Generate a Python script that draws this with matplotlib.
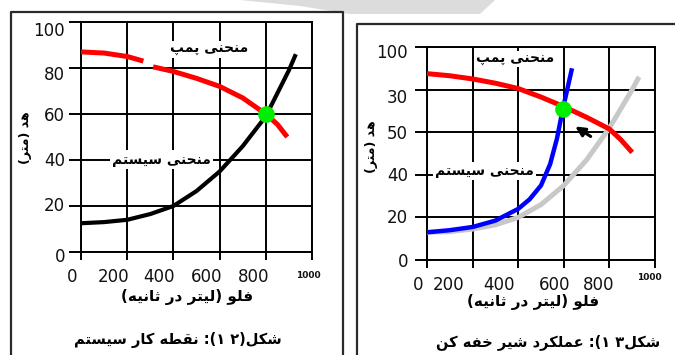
import matplotlib
matplotlib.use('Agg')
import matplotlib.pyplot as plt
from matplotlib.transforms import ScaledTranslation
from matplotlib.lines import Line2D
from matplotlib.patches import Polygon

# ---- data ----
flow_ticks = [0, 200, 400, 600, 800, 1000]
head_ticks = [0, 20, 40, 60, 80, 100]
x_labels = ['0', '200', '400', '600', '800', '1000']
y_labels_left = ['0', '20', '40', '60', '80', '100']
y_labels_right = ['0', '20', '40', '50', '30', '100']

# left panel: operating point
pump1_q_a = [0, 100, 200, 270]
pump1_h_a = [87, 86.5, 85, 83]
pump1_q_b = [312, 400, 500, 600, 700, 800, 850, 893]
pump1_h_b = [80.5, 78.5, 75.5, 72, 67, 60, 55.5, 50]
system1_q = [0, 100, 200, 300, 400, 500, 600, 700, 800, 900, 930]
system1_h = [12.5, 13, 14, 16.5, 20, 26.5, 35, 46, 59, 79, 86]
op1_q, op1_h = 800, 60

# right panel: throttling valve
pump2_q = [0, 100, 200, 300, 400, 500, 600, 700, 800, 850, 900]
pump2_h = [87.5, 86.5, 85, 83, 80.5, 76.5, 72, 67, 61.5, 56.5, 50.5]
system2_q = [0, 100, 200, 300, 400, 500, 600, 700, 800, 900, 930]
system2_h = [13, 13.3, 14.5, 16.5, 20, 26, 35, 47, 62, 80, 86]
throttled_q = [0, 100, 200, 300, 400, 450, 500, 540, 570, 596, 615, 636]
throttled_h = [13, 14, 15.5, 18.5, 24, 28.5, 35, 45, 57, 71, 80, 90]
op2_q, op2_h = 596, 71
arrow_tip = (640, 63.4)
arrow_tail = (728, 57.3)

# labels (logical order)
pump_label = 'منحنی پمپ'
system_label = 'منحنی سیستم'
x_title = 'فلو (لیتر در ثانیه)'
y_title = 'هد (متر)'
caption_left = 'شکل(۲ ۱): نقطه کار سیستم'
caption_right = 'شکل۳ ۱): عملکرد شیر خفه کن'

# ---- simple persian shaping + rtl ordering (matplotlib has neither) ----
FORMS = {
    'ا': ('\uFE8D', '\uFE8E', None, None),
    'ب': ('\uFE8F', '\uFE90', '\uFE91', '\uFE92'),
    'پ': ('\uFB56', '\uFB57', '\uFB58', '\uFB59'),
    'ت': ('\uFE95', '\uFE96', '\uFE97', '\uFE98'),
    'ث': ('\uFE99', '\uFE9A', '\uFE9B', '\uFE9C'),
    'ح': ('\uFEA1', '\uFEA2', '\uFEA3', '\uFEA4'),
    'خ': ('\uFEA5', '\uFEA6', '\uFEA7', '\uFEA8'),
    'د': ('\uFEA9', '\uFEAA', None, None),
    'ر': ('\uFEAD', '\uFEAE', None, None),
    'س': ('\uFEB1', '\uFEB2', '\uFEB3', '\uFEB4'),
    'ش': ('\uFEB5', '\uFEB6', '\uFEB7', '\uFEB8'),
    'ط': ('\uFEC1', '\uFEC2', '\uFEC3', '\uFEC4'),
    'ع': ('\uFEC9', '\uFECA', '\uFECB', '\uFECC'),
    'ف': ('\uFED1', '\uFED2', '\uFED3', '\uFED4'),
    'ق': ('\uFED5', '\uFED6', '\uFED7', '\uFED8'),
    'ک': ('\uFB8E', '\uFB8F', '\uFB90', '\uFB91'),
    'ل': ('\uFEDD', '\uFEDE', '\uFEDF', '\uFEE0'),
    'م': ('\uFEE1', '\uFEE2', '\uFEE3', '\uFEE4'),
    'ن': ('\uFEE5', '\uFEE6', '\uFEE7', '\uFEE8'),
    'ه': ('\uFEE9', '\uFEEA', '\uFEEB', '\uFEEC'),
    'و': ('\uFEED', '\uFEEE', None, None),
    'ی': ('\uFBFC', '\uFBFD', '\uFBFE', '\uFBFF'),
}
MIRROR = {'(': ')', ')': '('}


def fa(word):
    out = []
    for i, c in enumerate(word):
        prev = word[i - 1] if i > 0 else None
        nxt = word[i + 1] if i + 1 < len(word) else None
        jp = prev in FORMS and FORMS[prev][2] is not None
        jn = nxt in FORMS and FORMS[c][2] is not None
        f = FORMS[c]
        if jp and jn:
            out.append(f[3])
        elif jp:
            out.append(f[1])
        elif jn:
            out.append(f[2])
        else:
            out.append(f[0])
    return ''.join(reversed(out))


def vis(s):
    runs, cur = [], ''
    for c in s:
        if c in FORMS:
            cur += c
            continue
        if cur:
            runs.append(fa(cur))
            cur = ''
        runs.append(MIRROR.get(c, c))
    if cur:
        runs.append(fa(cur))
    return ''.join(reversed(runs))


W, H = 675, 355
fig = plt.figure(figsize=(W / 100, H / 100), dpi=100)
fig.patch.set_facecolor('white')


def px(x, y):
    return x / W, 1 - y / H


# faint watermark at the top
fig.add_artist(Polygon([px(240, 0), px(495, 0), px(480, 14), px(350, 14), px(300, 6)],
                       closed=True, transform=fig.transFigure, color='#dcdcdc', lw=0, zorder=0))

# panel frames
fr = dict(color='#2a2a2a', lw=1.6, transform=fig.transFigure)
fig.add_artist(Line2D([11 / W, 11 / W, 343 / W, 343 / W], [0, 1 - 12 / H, 1 - 12 / H, 0], **fr))
fig.add_artist(Line2D([357 / W, 357 / W, 1], [0, 1 - 24 / H, 1 - 24 / H], **fr))

num_font = dict(family='DejaVu Sans', fontsize=12, color='#111111')
fa_font = dict(family=['DejaVu Sans', 'Noto Sans'], fontweight='bold', color='black')


def setup(ax, ylabels, xoff, yoff, xdy, kdy, ylab_dx):
    ax.set_xlim(0, 1000)
    ax.set_ylim(0, 100)
    ax.set_xticks(flow_ticks)
    ax.set_yticks(head_ticks)
    ax.set_xticklabels([])
    ax.set_yticklabels([])
    ax.grid(True, color='black', lw=1.4)
    ax.set_axisbelow(True)
    for s in ax.spines.values():
        s.set_color('black')
        s.set_linewidth(1.4)
    ax.tick_params(axis='x', length=6, width=1.4, color='black', direction='out')
    ax.tick_params(axis='y', length=9, width=1.4, color='black', direction='out')
    for q, lab, dx in zip(flow_ticks, x_labels, xoff):
        if lab == '1000':
            t = ScaledTranslation(dx / 100, kdy / 100, fig.dpi_scale_trans)
            ax.text(q, 0, lab, transform=ax.get_xaxis_transform() + t, ha='center', va='center',
                    family='DejaVu Sans', fontsize=6.5, fontweight='bold', color='#111111')
        else:
            t = ScaledTranslation(dx / 100, xdy / 100, fig.dpi_scale_trans)
            ax.text(q, 0, lab, transform=ax.get_xaxis_transform() + t, ha='center', va='center',
                    **num_font)
    for h, lab, dy in zip(head_ticks, ylabels, yoff):
        t = ScaledTranslation(ylab_dx / 100, -dy / 100, fig.dpi_scale_trans)
        ax.text(0, h, lab, transform=ax.get_yaxis_transform() + t, ha='right', va='center',
                **num_font)


# ---- left panel ----
ax1 = fig.add_axes([81 / W, 1 - 252 / H, 231 / W, 230 / H])
setup(ax1, y_labels_left, [-9, -14, -14, -13, -12, -4], [5, 0, 1, 2, 7, 9], -25, -23, -16)
ax1.plot(pump1_q_a, pump1_h_a, color='#ff0000', lw=3.6, solid_capstyle='butt', zorder=3)
ax1.plot(pump1_q_b, pump1_h_b, color='#ff0000', lw=3.6, solid_capstyle='butt', zorder=3)
ax1.plot(system1_q, system1_h, color='black', lw=3, solid_capstyle='butt', zorder=4)
ax1.plot([op1_q], [op1_h], 'o', color='#00ee00', ms=12, mec='none', zorder=5)
ax1.text(554, 88.2, vis(pump_label), ha='center', va='center', fontsize=10, zorder=2,
         bbox=dict(facecolor='white', edgecolor='none', pad=1), **fa_font)
ax1.text(349, 40.2, vis(system_label), ha='center', va='center', fontsize=10, zorder=2,
         bbox=dict(facecolor='white', edgecolor='none', pad=1.5), **fa_font)

# ---- right panel ----
ax2 = fig.add_axes([427 / W, 1 - 260 / H, 228 / W, 213 / H])
setup(ax2, y_labels_right, [-9, -24, -19, -9, -11, -6], [2, 1, 1, 2, 8, 6], -25, -18, -19)
ax2.plot(system2_q, system2_h, color='#c8c8c8', lw=3.6, solid_capstyle='butt', zorder=3)
ax2.plot(throttled_q, throttled_h, color='#0000ff', lw=3.2, solid_capstyle='butt', zorder=4)
ax2.plot(pump2_q, pump2_h, color='#ff0000', lw=3.6, solid_capstyle='butt', zorder=5)
ax2.plot([op2_q], [op2_h], 'o', color='#00ee00', ms=12, mec='none', zorder=6)
ax2.annotate('', xy=arrow_tip, xytext=arrow_tail, zorder=6,
             arrowprops=dict(arrowstyle='-|>', color='black', lw=2.2, mutation_scale=14))
ax2.text(386, 94.4, vis(pump_label), ha='center', va='center', fontsize=10, zorder=2,
         bbox=dict(facecolor='white', edgecolor='none', pad=1), **fa_font)
ax2.text(254, 41.8, vis(system_label), ha='center', va='center', fontsize=10, zorder=2,
         bbox=dict(facecolor='white', edgecolor='none', pad=1.5), **fa_font)

# ---- axis titles and captions ----
for (xl, yl), (yx, yy) in [((187, 297), (25, 138)), ((533, 302), (372, 147))]:
    fig.text(*px(xl, yl), vis(x_title), ha='center', va='center', fontsize=11, **fa_font)
    fig.text(*px(yx, yy), vis(y_title), ha='center', va='center', rotation=90, fontsize=9, **fa_font)
fig.text(*px(178, 340), vis(caption_left), ha='center', va='center', fontsize=10.5, **fa_font)
fig.text(*px(548, 342), vis(caption_right), ha='center', va='center', fontsize=10.5, **fa_font)

plt.savefig('out.png', dpi=100)
